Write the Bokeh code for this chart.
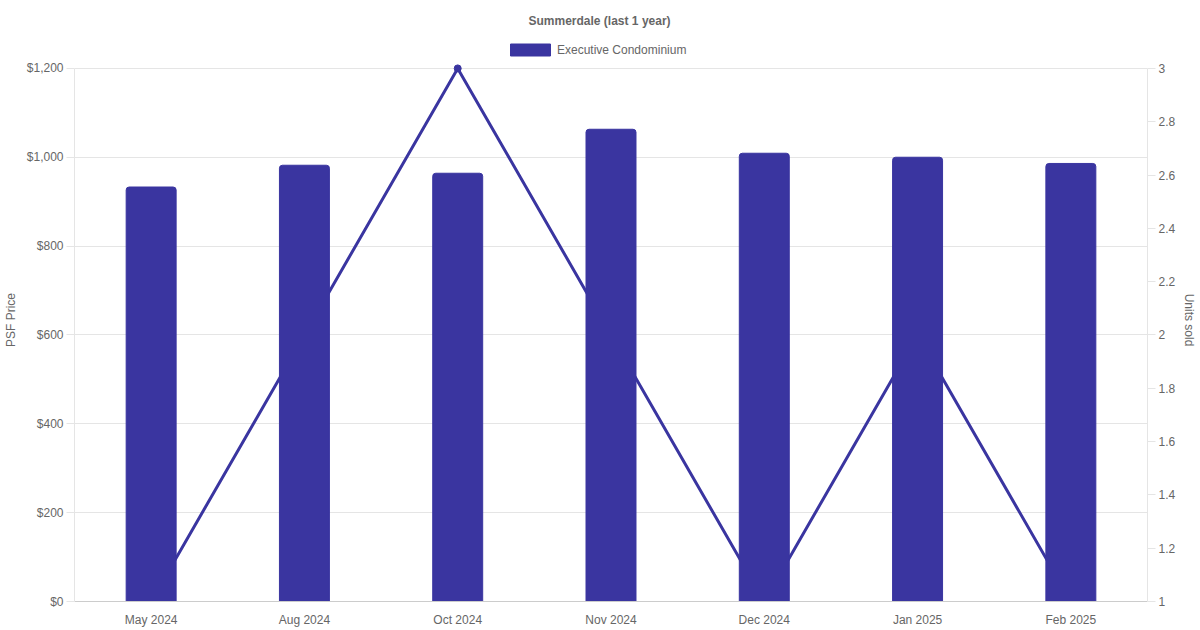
from bokeh.plotting import figure
from bokeh.models import (ColumnDataSource, FactorRange, Range1d, LinearAxis, Legend, LegendItem,
                          NumeralTickFormatter, FixedTicker)
from bokeh.embed import file_html
from bokeh.resources import INLINE

months = ["May 2024", "Aug 2024", "Oct 2024", "Nov 2024", "Dec 2024", "Jan 2025", "Feb 2025"]
psf_price = [933, 982, 964, 1063, 1009, 1000, 986]
units_sold = [1, 2, 3, 2, 1, 2, 1]
series_name = "Executive Condominium"
psf_ticks = [0, 200, 400, 600, 800, 1000, 1200]
unit_ticks = [1, 1.2, 1.4, 1.6, 1.8, 2, 2.2, 2.4, 2.6, 2.8, 3]

COLOR = "#3a35a0"
TEXT = "#666666"
GRID = "#e5e5e5"
FONT = "Liberation Sans"

# the frame reaches up above the top tick so the legend fits inside it
HEAD = 565 / 535
src = ColumnDataSource(dict(month=months, psf=psf_price, units=units_sold))

p = figure(width=1200, height=630, x_range=FactorRange(*months, range_padding=0),
           y_range=Range1d(0, psf_ticks[-1] * HEAD), output_backend="svg", toolbar_location=None,
           title="Summerdale (last 1 year)")
p.min_border_left = 74
p.min_border_right = 53
p.min_border_top = 36
p.min_border_bottom = 29
p.outline_line_color = None
p.background_fill_color = "white"
p.border_fill_color = "white"

p.title.align = "left"
p.title.offset = 454
p.title.standoff = 22
p.title.text_font = FONT
p.title.text_font_size = "12px"
p.title.text_font_style = "bold"
p.title.text_color = TEXT

u0, u1 = unit_ticks[0], unit_ticks[-1]
p.extra_y_ranges = {"units": Range1d(u0, u0 + (u1 - u0) * HEAD)}

# line behind bars
line_r = p.line("month", "units", source=src, y_range_name="units", line_color=COLOR, line_width=3)
dot_r = p.scatter("month", "units", source=src, y_range_name="units", size=7,
                  fill_color=COLOR, line_color=COLOR)
bar_r = p.vbar(x="month", top="psf", width=0.326, source=src, fill_color=COLOR, line_color=COLOR,
               border_radius=(3, 3, 0, 0))

yax = p.yaxis[0]
yax.ticker = FixedTicker(ticks=psf_ticks)
yax.formatter = NumeralTickFormatter(format="$0,0")
yax.axis_label = "PSF Price"
yax.bounds = (psf_ticks[0], psf_ticks[-1])

right = LinearAxis(y_range_name="units", axis_label="Units sold", ticker=FixedTicker(ticks=unit_ticks))
right.bounds = (u0, u1)
p.add_layout(right, "right")

for ax in [yax, right]:
    ax.axis_line_color = GRID
    ax.major_tick_line_color = GRID
    ax.major_tick_out = 8
    ax.major_tick_in = 0
    ax.minor_tick_line_color = None
    ax.major_label_standoff = 3
    ax.major_label_text_font = FONT
    ax.major_label_text_font_size = "12px"
    ax.major_label_text_color = TEXT
    ax.axis_label_text_font = FONT
    ax.axis_label_text_font_size = "12px"
    ax.axis_label_text_font_style = "normal"
    ax.axis_label_text_color = TEXT
yax.axis_label_standoff = 6
right.axis_label_standoff = 4

xax = p.xaxis[0]
xax.axis_line_color = "#cccccc"
xax.major_tick_line_color = None
xax.minor_tick_line_color = None
xax.major_label_standoff = 5
xax.major_label_text_font = FONT
xax.major_label_text_font_size = "12px"
xax.major_label_text_color = TEXT

p.xgrid.grid_line_color = None
p.ygrid.grid_line_color = GRID

legend = Legend(items=[LegendItem(label=series_name, renderers=[bar_r])], orientation="horizontal",
                location=(431, 544), glyph_width=50, glyph_height=15, label_text_font=FONT,
                label_text_font_size="12px", label_text_color=TEXT, border_line_color=None,
                background_fill_alpha=0, padding=0, margin=0, spacing=0, label_standoff=2,
                label_height=15)
p.add_layout(legend, "center")

open("out.html", "w").write(file_html(p, INLINE))
